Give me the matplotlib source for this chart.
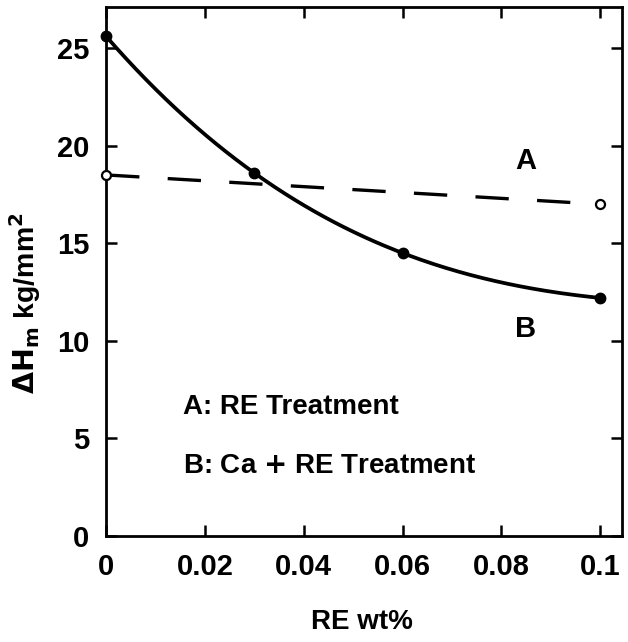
import numpy as np
import matplotlib.pyplot as plt

# --- dados ---
re_wt = [0.0, 0.03, 0.06, 0.1]
dh_b = [25.6, 18.6, 14.5, 12.2]      # B: Ca + RE (linha cheia)
re_wt_a = [0.0, 0.1]
dh_a = [18.5, 17.0]                  # A: RE (tracejada)

x_ticks = [0, 0.02, 0.04, 0.06, 0.08, 0.1]
x_tick_labels = ['0', '0.02', '0.04', '0.06', '0.08', '0.1']
y_ticks = [0, 5, 10, 15, 20, 25]

plt.rcParams['font.family'] = ['Liberation Sans', 'DejaVu Sans']
plt.rcParams['font.weight'] = 'bold'
plt.rcParams['axes.labelweight'] = 'bold'

fig = plt.figure(figsize=(6.28, 6.42), dpi=100)
ax = fig.add_axes([0.169, 0.165, 0.822, 0.824])

# curva suave passando pelos pontos de B
coef = np.polyfit(re_wt, dh_b, 3)
xs = np.linspace(re_wt[0], re_wt[-1], 200)
ax.plot(xs, np.polyval(coef, xs), color='black', lw=2.7, solid_capstyle='round')
ax.plot(re_wt, dh_b, 'o', color='black', ms=7.5, zorder=3, clip_on=False)

ax.plot(re_wt_a, dh_a, color='black', lw=2.4, dashes=(10, 8.5))
ax.plot(re_wt_a, dh_a, 'o', mfc='white', mec='black', mew=1.6, ms=6.5,
        zorder=3, clip_on=False)

ax.set_xlim(0, 0.1045)
ax.set_ylim(0, 27.1)
ax.set_xticks(x_ticks)
ax.set_xticklabels(x_tick_labels)
ax.set_yticks(y_ticks)
ax.tick_params(direction='in', length=8, width=1.8, labelsize=21,
               top=True, right=True, pad=12)
for s in ax.spines.values():
    s.set_linewidth(2)

ax.text(0.085, 19.2, 'A', fontsize=21, ha='center', va='center')
ax.text(0.085, 10.6, 'B', fontsize=21, ha='center', va='center')
ax.text(0.0156, 6.6, 'A: RE Treatment', fontsize=20, ha='left', va='center')
ax.text(0.0156, 3.6, 'B: Ca $+$ RE Treatment', fontsize=20, ha='left', va='center')

ax.set_xlabel('RE wt%', fontsize=20)
ax.xaxis.set_label_coords(0.496, -0.138)
ax.set_ylabel(r'$\mathbf{\Delta H_m}$ kg/mm$^\mathbf{2}$', fontsize=20.5)
ax.yaxis.set_label_coords(-0.122, 0.44)

fig.savefig('out.png', dpi=100)
